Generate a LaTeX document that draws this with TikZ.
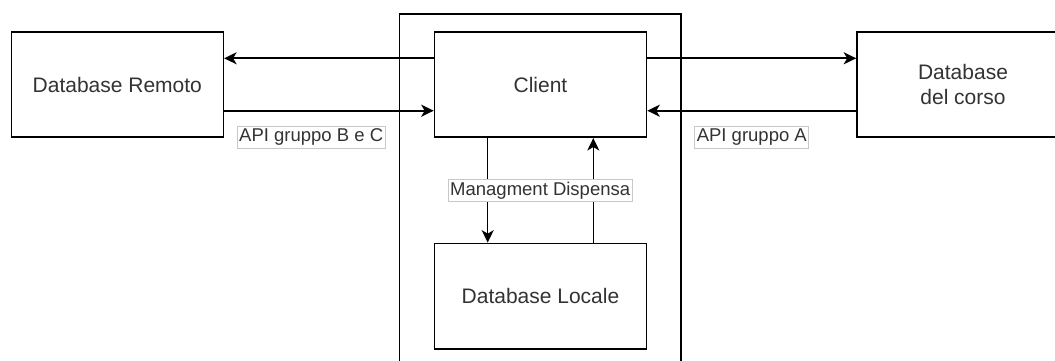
\documentclass[tikz,border=0pt]{standalone}
\usepackage{fontspec}
\setmainfont{Liberation Sans}
\usetikzlibrary{arrows.meta}
\definecolor{txt}{HTML}{333333}
\definecolor{lblborder}{HTML}{C8C8C8}
\tikzset{
  box/.style={draw=black, line width=1.6pt, fill=white, minimum width=212pt, minimum height=105.5pt, inner sep=0pt, align=center, text=txt, font=\fontsize{21}{24.5}\selectfont},
  arr/.style={line width=2pt, -{Stealth[length=12.5pt,width=12pt,inset=3.5pt]}},
  varr/.style={line width=1.4pt, -{Stealth[length=12.5pt,width=12pt,inset=3.5pt]}},
  lbl/.style={draw=lblborder, line width=0.8pt, fill=white, text=txt, inner xsep=2pt, inner ysep=0pt, minimum height=22.5pt, font=\fontsize{18.5}{22}\selectfont},
}
\begin{document}
\begin{tikzpicture}[x=1pt, y=-1pt]
\useasboundingbox (0,0) rectangle (1055,361);
\begin{scope}
\clip (0,0) rectangle (1055,361);
\draw[line width=1.6pt] (399.5,370) coordinate (cbl) -- (399.5,14) coordinate (ctl) -- (681,14) coordinate (ctr) -- (681,370) coordinate (cbr);
\node[box] (dr) at (117.3,84.5) {Database Remoto};
\node[box] (client) at (540.5,84.5) {Client};
\node[box] (dc) at (963,84.5) {Database\\del corso};
\node[box] (dl) at (540.5,296.2) {Database Locale};
\draw[arr] ([yshift=26.2pt]client.west) -- ([yshift=26.2pt]dr.east);
\draw[arr] ([yshift=-26.2pt]dr.east) -- ([yshift=-26.2pt]client.west);
\draw[arr] ([yshift=26.2pt]client.east) -- ([yshift=26.2pt]dc.west);
\draw[arr] ([yshift=-26.2pt]dc.west) -- ([yshift=-26.2pt]client.east);
\draw[varr] ([xshift=-52.8pt]client.south) -- ([xshift=-52.8pt]dl.north);
\draw[varr] ([xshift=52.8pt]dl.north) -- ([xshift=52.8pt]client.south);
\node[lbl] (l1) at (311.2,137.4) {API gruppo B e C};
\node[lbl] (l2) at (751.8,137.4) {API gruppo A};
\node[lbl] (l3) at (540.2,190.3) {Managment Dispensa};
\end{scope}
\end{tikzpicture}
\end{document}
